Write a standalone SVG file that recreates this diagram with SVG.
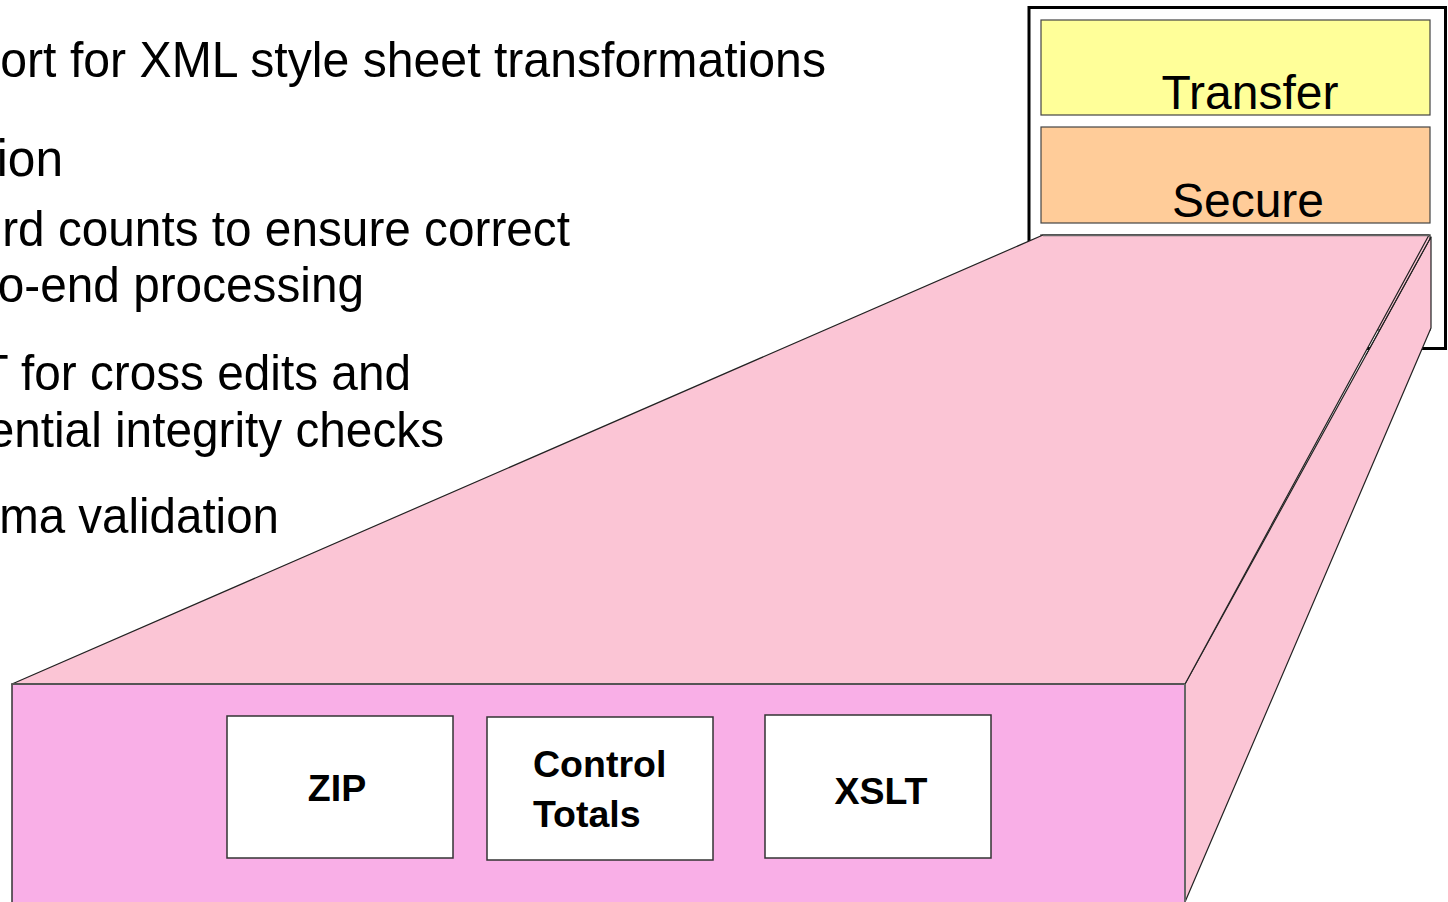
<svg xmlns="http://www.w3.org/2000/svg" width="1448" height="902" viewBox="0 0 1448 902">
  <style>
    .txt { font-family: "Liberation Sans", Arial, sans-serif; font-size: 50px; fill: #000; }
    .hdr { font-family: "Liberation Sans", Arial, sans-serif; font-size: 48px; fill: #000; }
    .lbl { font-family: "Liberation Sans", Arial, sans-serif; font-size: 37.5px; font-weight: bold; fill: #000; }
    .face { fill: #FBC5D5; stroke: #222; stroke-width: 1.2; stroke-linejoin: round; }
    .box { fill: #fff; stroke: #333; stroke-width: 1.5; }
  </style>
  <rect width="1448" height="902" fill="#fff"/>

  <g id="bullets">
    <text class="txt" transform="translate(826,77) scale(0.964,1)" text-anchor="end">port for XML style sheet transformations</text>
    <text class="txt" transform="translate(63,176) scale(0.955,1)" text-anchor="end" style="font-size:52px">ion</text>
    <text class="txt" transform="translate(570,246) scale(0.955,1)" text-anchor="end">rd counts to ensure correct</text>
    <text class="txt" transform="translate(364,302) scale(0.955,1)" text-anchor="end">o-end processing</text>
    <text class="txt" transform="translate(411,390) scale(0.955,1)" text-anchor="end">T for cross edits and</text>
    <text class="txt" transform="translate(444,447) scale(0.955,1)" text-anchor="end">ential integrity checks</text>
    <text class="txt" transform="translate(279,533) scale(0.95,1)" text-anchor="end">ma validation</text>
  </g>

  <g id="stack">
    <rect x="1029" y="7.5" width="416.5" height="341" fill="#fff" stroke="#000" stroke-width="3"/>
    <g id="transfer">
      <rect x="1041" y="20" width="389" height="95" fill="#FFFF99" stroke="#444" stroke-width="1.2"/>
      <text class="hdr" x="1250" y="109" text-anchor="middle">Transfer</text>
    </g>
    <g id="secure">
      <rect x="1041" y="127" width="389" height="96" fill="#FFCC99" stroke="#444" stroke-width="1.2"/>
      <text class="hdr" x="1248" y="217" text-anchor="middle">Secure</text>
    </g>
    <rect x="1041" y="235" width="389" height="95" fill="#FBC5D5" stroke="#555" stroke-width="1.5"/>
  </g>

  <g id="expansion">
    <polygon class="face" points="1431,237 1431,328 1185,902 1185,684"/>
    <polygon class="face" points="1043,235 1429,235 1185,684 12,684"/>
    <line x1="1431" y1="237" x2="1366" y2="355" stroke="#222" stroke-width="1"/>
    <line x1="1043" y1="235.5" x2="1429" y2="235.5" stroke="#666" stroke-width="1.5"/>
  </g>

  <g id="front">
    <rect x="12" y="684" width="1173" height="240" fill="#F9AFE7" stroke="#333" stroke-width="1.5"/>
    <line x1="12" y1="684" x2="1185" y2="684" stroke="#555" stroke-width="2"/>
    <line x1="1185" y1="684" x2="1185" y2="902" stroke="#666" stroke-width="2"/>
  </g>

  <g id="zip">
    <rect class="box" x="227" y="716" width="226" height="142"/>
    <text class="lbl" x="337" y="801" text-anchor="middle">ZIP</text>
  </g>
  <g id="control-totals">
    <rect class="box" x="487" y="717" width="226" height="143"/>
    <text class="lbl" x="533" y="777">Control</text>
    <text class="lbl" x="533" y="827">Totals</text>
  </g>
  <g id="xslt">
    <rect class="box" x="765" y="715" width="226" height="143"/>
    <text class="lbl" x="881" y="804" text-anchor="middle">XSLT</text>
  </g>

  <g id="connectors"></g>
</svg>
